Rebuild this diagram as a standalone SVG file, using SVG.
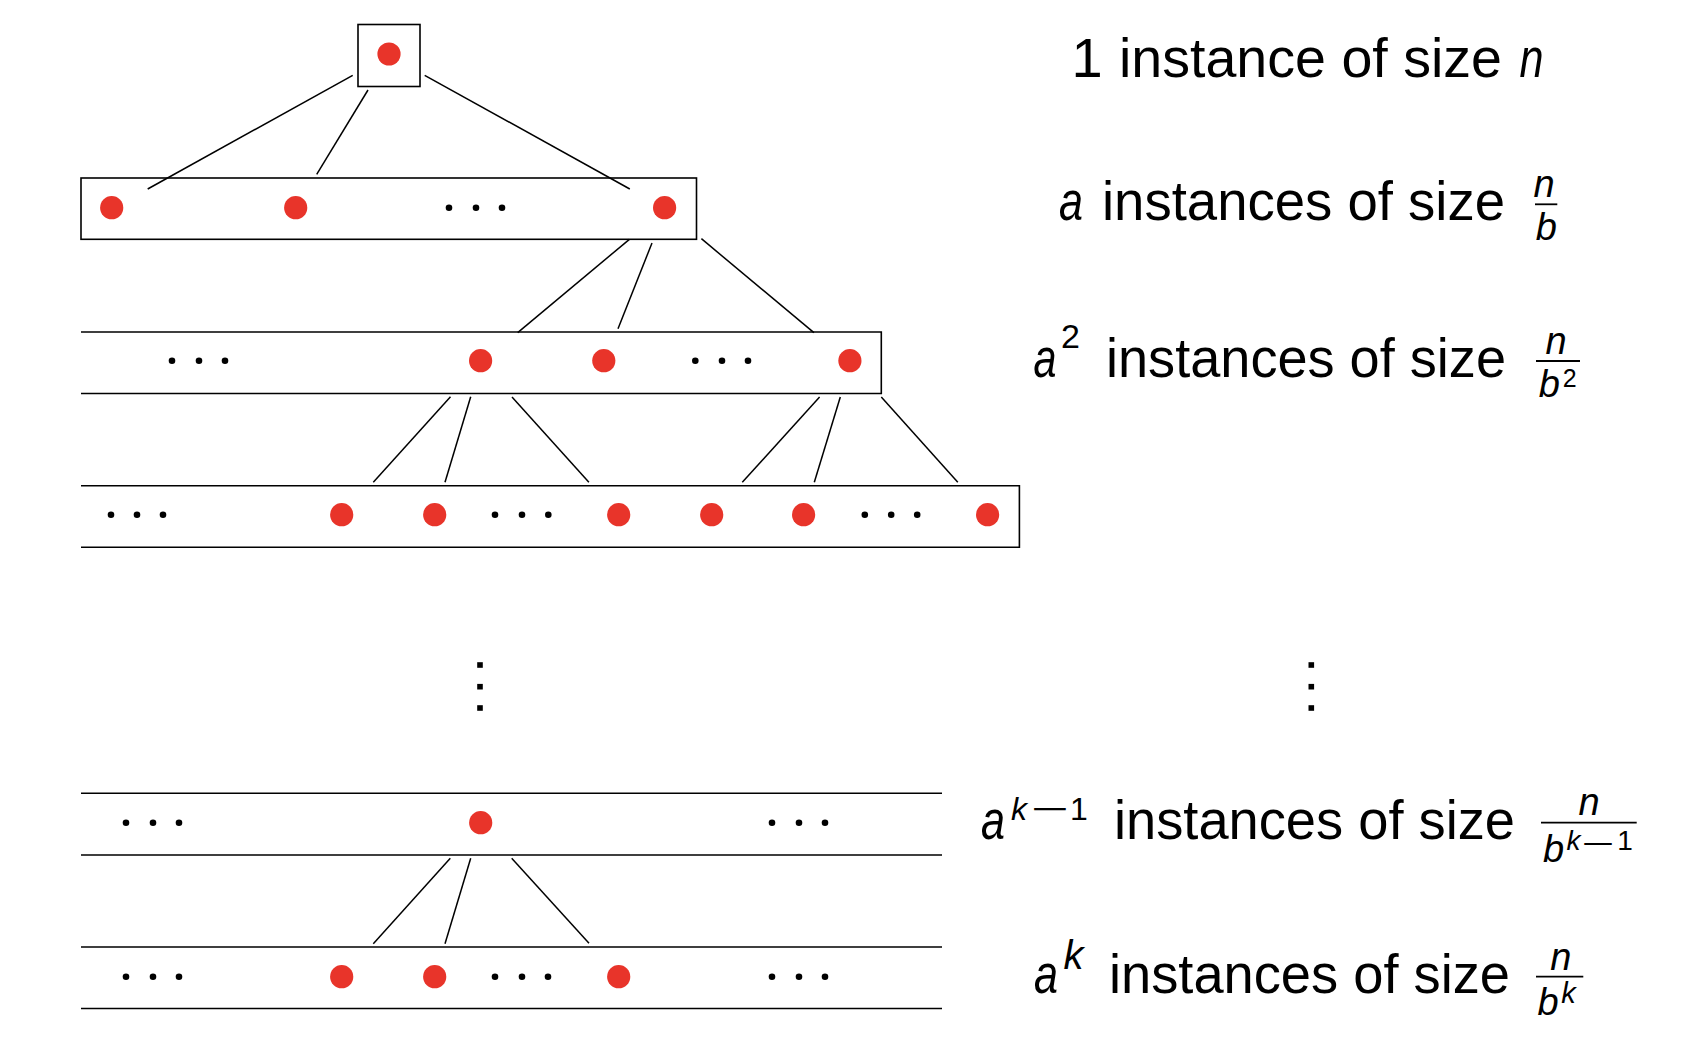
<svg xmlns="http://www.w3.org/2000/svg" width="1690" height="1058" viewBox="0 0 1690 1058">
<defs>
<style>
.box{fill:none;stroke:#000;stroke-width:1.6}
.edge{stroke:#000;stroke-width:1.5;fill:none}
.red{fill:#e8342a}
.blk{fill:#000}
.bar{stroke:#000;stroke-width:1.8}
text{font-family:"Liberation Sans",Arial,sans-serif;fill:#000}
.m{font-size:56px}
.i{font-style:italic}
.c{text-anchor:middle}
</style>
</defs>
<rect width="1690" height="1058" fill="#fff"/>

<g id="level0">
<rect class="box" x="358" y="24.5" width="62" height="62"/>
<circle class="red" cx="389" cy="54" r="11.6"/>
</g>

<g id="level1">
<rect class="box" x="81" y="178" width="615.5" height="61.3"/>
<circle class="red" cx="111.7" cy="207.7" r="11.6"/>
<circle class="red" cx="295.7" cy="207.7" r="11.6"/>
<circle class="blk" cx="449" cy="207.7" r="3.3"/>
<circle class="blk" cx="476" cy="207.7" r="3.3"/>
<circle class="blk" cx="502" cy="207.7" r="3.3"/>
<circle class="red" cx="664.6" cy="207.7" r="11.6"/>
</g>

<g id="level2">
<path class="box" d="M81,332 H881.3 V393.5 H81"/>
<circle class="blk" cx="172" cy="360.7" r="3.3"/>
<circle class="blk" cx="199" cy="360.7" r="3.3"/>
<circle class="blk" cx="225" cy="360.7" r="3.3"/>
<circle class="red" cx="480.6" cy="360.7" r="11.6"/>
<circle class="red" cx="603.8" cy="360.7" r="11.6"/>
<circle class="blk" cx="695.3" cy="360.7" r="3.3"/>
<circle class="blk" cx="722" cy="360.7" r="3.3"/>
<circle class="blk" cx="748" cy="360.7" r="3.3"/>
<circle class="red" cx="849.9" cy="360.7" r="11.6"/>
</g>

<g id="level3">
<path class="box" d="M81,485.7 H1019.4 V547.2 H81"/>
<circle class="blk" cx="111" cy="514.7" r="3.3"/>
<circle class="blk" cx="137" cy="514.7" r="3.3"/>
<circle class="blk" cx="163" cy="514.7" r="3.3"/>
<circle class="red" cx="341.7" cy="514.7" r="11.6"/>
<circle class="red" cx="434.7" cy="514.7" r="11.6"/>
<circle class="blk" cx="495" cy="514.7" r="3.3"/>
<circle class="blk" cx="522" cy="514.7" r="3.3"/>
<circle class="blk" cx="548.3" cy="514.7" r="3.3"/>
<circle class="red" cx="618.7" cy="514.7" r="11.6"/>
<circle class="red" cx="711.7" cy="514.7" r="11.6"/>
<circle class="red" cx="803.6" cy="514.7" r="11.6"/>
<circle class="blk" cx="864.8" cy="514.7" r="3.3"/>
<circle class="blk" cx="891.2" cy="514.7" r="3.3"/>
<circle class="blk" cx="917.2" cy="514.7" r="3.3"/>
<circle class="red" cx="987.6" cy="514.7" r="11.6"/>
</g>

<g id="vdots-left">
<rect class="blk" x="477.2" y="662.2" width="5.6" height="5.6"/>
<rect class="blk" x="477.2" y="683.9" width="5.6" height="5.6"/>
<rect class="blk" x="477.2" y="705.2" width="5.6" height="5.6"/>
</g>

<g id="levelk-1">
<path class="box" d="M81,793.2 H942 M81,855 H942"/>
<circle class="blk" cx="126" cy="822.7" r="3.3"/>
<circle class="blk" cx="153" cy="822.7" r="3.3"/>
<circle class="blk" cx="179" cy="822.7" r="3.3"/>
<circle class="red" cx="480.7" cy="822.7" r="11.6"/>
<circle class="blk" cx="772" cy="822.7" r="3.3"/>
<circle class="blk" cx="799" cy="822.7" r="3.3"/>
<circle class="blk" cx="825" cy="822.7" r="3.3"/>
</g>

<g id="levelk">
<path class="box" d="M81,947 H942 M81,1008.5 H942"/>
<circle class="blk" cx="126" cy="976.7" r="3.3"/>
<circle class="blk" cx="153" cy="976.7" r="3.3"/>
<circle class="blk" cx="179" cy="976.7" r="3.3"/>
<circle class="red" cx="341.7" cy="976.7" r="11.6"/>
<circle class="red" cx="434.7" cy="976.7" r="11.6"/>
<circle class="blk" cx="495" cy="976.7" r="3.3"/>
<circle class="blk" cx="522" cy="976.7" r="3.3"/>
<circle class="blk" cx="548" cy="976.7" r="3.3"/>
<circle class="red" cx="618.7" cy="976.7" r="11.6"/>
<circle class="blk" cx="772" cy="976.7" r="3.3"/>
<circle class="blk" cx="799" cy="976.7" r="3.3"/>
<circle class="blk" cx="825" cy="976.7" r="3.3"/>
</g>

<g id="connectors">
<line class="edge" x1="352.7" y1="75.3" x2="147.7" y2="189"/>
<line class="edge" x1="368" y1="90" x2="316.7" y2="174.3"/>
<line class="edge" x1="424.7" y1="75.3" x2="629.8" y2="189"/>
<line class="edge" x1="629.4" y1="239.3" x2="517.7" y2="332.7"/>
<line class="edge" x1="652" y1="243" x2="618" y2="328.7"/>
<line class="edge" x1="701.4" y1="238.7" x2="813.9" y2="332.7"/>
<line class="edge" x1="450.5" y1="396.8" x2="373.3" y2="482.3"/>
<line class="edge" x1="470.7" y1="396.8" x2="445" y2="482.3"/>
<line class="edge" x1="512" y1="397" x2="588.9" y2="482.3"/>
<line class="edge" x1="819.6" y1="397" x2="742.3" y2="482.3"/>
<line class="edge" x1="840.3" y1="397" x2="814.3" y2="482.3"/>
<line class="edge" x1="881.3" y1="397" x2="957.8" y2="482.3"/>
<line class="edge" x1="450.3" y1="858.3" x2="373.3" y2="943.7"/>
<line class="edge" x1="470.7" y1="858.3" x2="445" y2="943.7"/>
<line class="edge" x1="511.7" y1="858.3" x2="589" y2="943.3"/>
</g>

<g id="label0">
<text class="m c" x="1087" y="77.3">1</text>
<text class="m" x="1119" y="77.3" textLength="383" lengthAdjust="spacingAndGlyphs">instance of size</text>
<text class="m i c" x="1531.5" y="77.3" textLength="24" lengthAdjust="spacingAndGlyphs">n</text>
</g>

<g id="label1">
<text class="m i c" x="1071" y="220" textLength="24" lengthAdjust="spacingAndGlyphs">a</text>
<text class="m" x="1102" y="220" textLength="403" lengthAdjust="spacingAndGlyphs">instances of size</text>
<text class="i c" x="1544" y="196.7" font-size="38">n</text>
<line class="bar" x1="1535" y1="204.3" x2="1557.3" y2="204.3"/>
<text class="i c" x="1546.3" y="240" font-size="38">b</text>
</g>

<g id="label2">
<text y="377"><tspan class="m i" x="1033.5" textLength="23" lengthAdjust="spacingAndGlyphs">a</tspan><tspan x="1061" y="348" font-size="34">2</tspan></text>
<text class="m" x="1106" y="377" textLength="400" lengthAdjust="spacingAndGlyphs">instances of size</text>
<text class="i c" x="1556" y="354" font-size="38">n</text>
<line class="bar" x1="1536" y1="361" x2="1580" y2="361"/>
<text class="i c" x="1549.3" y="396.7" font-size="38">b</text>
<text class="c" x="1569.8" y="386.7" font-size="25">2</text>
</g>

<g id="vdots-right">
<rect class="blk" x="1308.5" y="662.2" width="5.6" height="5.6"/>
<rect class="blk" x="1308.5" y="683.9" width="5.6" height="5.6"/>
<rect class="blk" x="1308.5" y="705.2" width="5.6" height="5.6"/>
</g>

<g id="labelk-1">
<text class="m i c" x="993" y="839" textLength="24" lengthAdjust="spacingAndGlyphs">a</text>
<text class="i c" x="1019" y="820" font-size="32">k</text>
<text class="c" x="1050" y="820" font-size="32" textLength="38" lengthAdjust="spacingAndGlyphs">−</text>
<text class="c" x="1079" y="820" font-size="32">1</text>
<text class="m" x="1114" y="839" textLength="401" lengthAdjust="spacingAndGlyphs">instances of size</text>
<text class="i c" x="1589" y="815" font-size="38">n</text>
<line class="bar" x1="1541" y1="822.7" x2="1636.7" y2="822.7"/>
<text class="i c" x="1553.5" y="861.7" font-size="38">b</text>
<text class="i c" x="1573.5" y="850" font-size="28">k</text>
<text class="c" x="1598" y="853" font-size="28" textLength="33" lengthAdjust="spacingAndGlyphs">−</text>
<text class="c" x="1625" y="850" font-size="28">1</text>
</g>

<g id="labelk">
<text class="m i c" x="1046" y="992.7" textLength="24" lengthAdjust="spacingAndGlyphs">a</text>
<text class="i c" x="1073.4" y="969" font-size="40">k</text>
<text class="m" x="1109" y="992.7" textLength="401" lengthAdjust="spacingAndGlyphs">instances of size</text>
<text class="i c" x="1560.8" y="970" font-size="38">n</text>
<line class="bar" x1="1536" y1="976.7" x2="1583.3" y2="976.7"/>
<text class="i c" x="1548" y="1015" font-size="38">b</text>
<text class="i c" x="1568.5" y="1003" font-size="29">k</text>
</g>
</svg>
